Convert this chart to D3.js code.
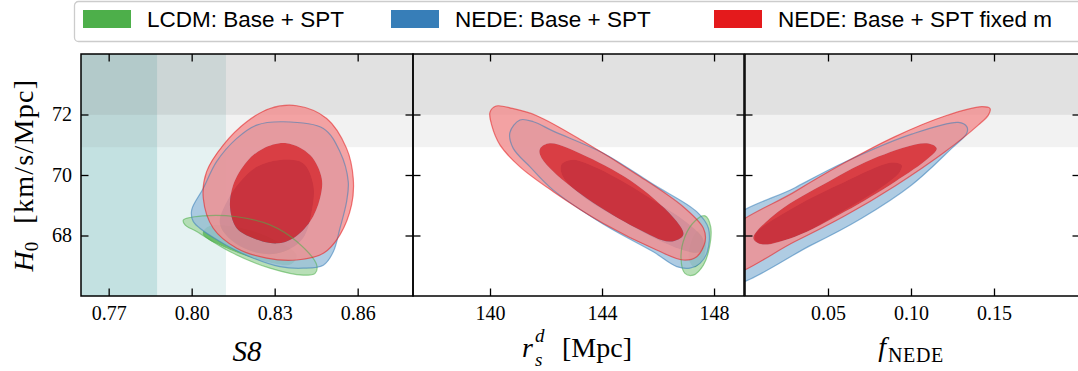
<!DOCTYPE html>
<html>
<head>
<meta charset="utf-8">
<script src="https://cdn.jsdelivr.net/npm/d3@7"></script>
<style>
  body { margin: 0; background: #fff; }
  svg { display: block; }
</style>
</head>
<body>
<svg id="chart" width="1078" height="371"></svg>
<script>
// ---- data ----
const seriesNames = ["LCDM: Base + SPT", "NEDE: Base + SPT", "NEDE: Base + SPT fixed m"];
const seriesColors = ["#4daf4a", "#377eb8", "#e41a1c"];

const h0Ticks = [68, 70, 72];
const s8Ticks = [0.77, 0.80, 0.83, 0.86];
const rsTicks = [140, 144, 148];
const fTicks = [0.05, 0.10, 0.15];

// external priors drawn as shaded bands (2 sigma, 1 sigma)
const h0Bands = [{ lo: 70.92, hi: 76 }, { lo: 71.99, hi: 76 }];
const s8Bands = [{ lo: 0.70, hi: 0.8124 }, { lo: 0.70, hi: 0.7875 }];

// contours, [x, H0]
const s8GreenOuter = [[0.7970,68.51],[0.8042,68.65],[0.8163,68.62],[0.8283,68.35],[0.8380,67.80],[0.8452,67.02],[0.8446,66.75],[0.8403,66.69],[0.8283,66.92],[0.8139,67.46],[0.8018,68.13],[0.7976,68.35]];
const s8GreenInner = [[0.8060,68.30],[0.8180,68.25],[0.8300,67.85],[0.8380,67.35],[0.8360,67.05],[0.8260,67.15],[0.8120,67.60],[0.8040,68.05]];
const s8BlueOuter = [[0.8331,71.76],[0.8476,71.54],[0.8536,70.77],[0.8566,69.78],[0.8560,69.12],[0.8536,68.24],[0.8512,67.46],[0.8476,67.02],[0.8403,66.92],[0.8319,66.97],[0.8223,67.25],[0.8102,67.80],[0.8006,68.46],[0.8000,68.84],[0.8042,69.56],[0.8090,70.44],[0.8163,71.21],[0.8235,71.65]];
const s8BlueInner = [[0.8319,70.50],[0.8403,70.39],[0.8440,69.67],[0.8434,68.79],[0.8403,67.91],[0.8331,67.46],[0.8247,67.41],[0.8150,67.80],[0.8102,68.40],[0.8127,69.12],[0.8175,69.78],[0.8235,70.27]];
const s8RedOuter = [[0.8380,72.29],[0.8488,71.87],[0.8560,70.88],[0.8584,69.89],[0.8578,69.01],[0.8536,68.02],[0.8476,67.41],[0.8380,67.19],[0.8271,67.25],[0.8163,67.58],[0.8078,68.24],[0.8042,69.23],[0.8054,70.11],[0.8114,70.99],[0.8199,71.76],[0.8283,72.20]];
const s8RedInner = [[0.8343,71.05],[0.8428,70.66],[0.8470,69.89],[0.8464,69.23],[0.8428,68.46],[0.8367,67.91],[0.8307,67.74],[0.8223,67.91],[0.8163,68.24],[0.8139,68.90],[0.8150,69.67],[0.8199,70.44],[0.8259,70.88]];

const rsGreenOuter = [[147.68,68.65],[147.88,68.29],[147.83,67.58],[147.62,67.02],[147.26,66.69],[146.96,66.75],[146.82,67.25],[146.96,67.96],[147.32,68.48]];
const rsGreenInner = [[147.55,68.20],[147.72,67.80],[147.60,67.20],[147.30,66.95],[147.10,67.20],[147.15,67.70],[147.35,68.10]];
const rsBlueOuter = [[141.07,71.82],[141.55,71.76],[142.26,71.45],[144.05,70.72],[145.83,69.69],[147.38,68.79],[147.80,68.24],[147.76,67.46],[147.50,67.08],[147.14,66.92],[146.67,66.97],[145.83,67.46],[144.05,68.37],[142.26,69.50],[141.43,70.27],[140.83,70.88],[140.71,71.40]];
const rsBlueInner = [[142.55,70.35],[142.95,70.50],[144.29,70.02],[145.95,69.10],[147.14,68.35],[147.62,67.85],[147.50,67.46],[146.96,67.50],[146.00,67.85],[144.60,68.55],[143.30,69.30],[142.60,69.95]];
const rsRedOuter = [[140.00,72.08],[140.22,72.28],[140.80,72.20],[141.67,71.96],[143.45,71.05],[145.24,70.02],[146.90,68.95],[147.62,68.24],[147.68,67.80],[147.38,67.30],[146.90,67.19],[145.95,67.52],[144.05,68.40],[142.26,69.45],[141.07,70.27],[140.36,70.99],[140.06,71.65]];
const rsRedInner = [[141.79,70.88],[142.14,71.05],[143.45,70.61],[145.24,69.67],[146.67,68.46],[146.90,68.02],[146.43,67.80],[145.24,68.24],[143.45,69.23],[142.14,70.22],[141.79,70.66]];

const fBlueOuter = [[0.1336,71.60],[0.1285,71.74],[0.1004,71.35],[0.0602,70.43],[0.0301,69.58],[-0.012,68.32],[-0.012,66.39],[0.0402,67.69],[0.0703,68.57],[0.1004,69.67],[0.1245,70.88],[0.1336,71.38]];
const fBlueInner = [[0.0944,70.33],[0.0884,70.41],[0.0602,69.78],[0.0301,68.95],[0.0060,68.02],[0.0080,67.74],[0.0301,67.96],[0.0602,68.84],[0.0843,69.67],[0.0934,70.11]];
const fRedOuter = [[0.1476,72.20],[0.1426,72.26],[0.1205,71.95],[0.0904,71.27],[0.0602,70.41],[0.0301,69.45],[-0.012,67.98],[-0.012,66.71],[0.0301,67.80],[0.0602,68.65],[0.0904,69.64],[0.1205,70.77],[0.1405,71.65],[0.1466,71.98]];
const fRedInner = [[0.1155,70.88],[0.1095,71.05],[0.0803,70.61],[0.0502,69.78],[0.0201,68.79],[0.0050,67.91],[0.0101,67.71],[0.0301,67.96],[0.0602,68.79],[0.0904,69.78],[0.1104,70.55]];

// ---- layout ----
const svg = d3.select("#chart");
const plotTop = 54, plotBottom = 296;
const y = d3.scaleLinear().domain([66, 74]).range([plotBottom, plotTop]);
const serif = "'Liberation Serif', 'Times New Roman', serif";

const panels = [
  { x: d3.scaleLinear().domain([0.76, 0.88]).range([81, 413]), right: 413,
    ticks: s8Ticks, fmt: d3.format(".2f"),
    contours: [[s8GreenOuter, s8GreenInner], [s8BlueOuter, s8BlueInner], [s8RedOuter, s8RedInner]] },
  { x: d3.scaleLinear().domain([137.25, 149.07]).range([413, 744]), right: 744,
    ticks: rsTicks, fmt: d3.format("d"),
    contours: [[rsGreenOuter, rsGreenInner], [rsBlueOuter, rsBlueInner], [rsRedOuter, rsRedInner]] },
  { x: d3.scaleLinear().domain([0, 0.2]).range([745, 1077]), right: 1080,
    ticks: fTicks, fmt: d3.format(".2f"),
    contours: [null, [fBlueOuter, fBlueInner], [fRedOuter, fRedInner]] }
];

const bandAlpha = [0.1, 0.15];
const defs = svg.append("defs");

panels.forEach((p, i) => {
  const x0 = p.x.range()[0], w = p.right - x0;
  defs.append("clipPath").attr("id", "clip" + i)
    .append("rect").attr("x", x0).attr("y", plotTop).attr("width", w).attr("height", plotBottom - plotTop);

  const g = svg.append("g");
  const body = g.append("g").attr("clip-path", `url(#clip${i})`);

  if (i === 0) {
    s8Bands.forEach((b, k) => body.append("rect")
      .attr("x", p.x(b.lo)).attr("width", p.x(b.hi) - p.x(b.lo))
      .attr("y", plotTop).attr("height", plotBottom - plotTop)
      .attr("fill", "#008080").attr("fill-opacity", bandAlpha[k]));
  }
  h0Bands.forEach((b, k) => body.append("rect")
    .attr("x", x0).attr("width", w)
    .attr("y", y(b.hi)).attr("height", y(b.lo) - y(b.hi))
    .attr("fill", "#808080").attr("fill-opacity", bandAlpha[k]));

  const line = d3.line()
    .x(d => p.x(d[0])).y(d => y(d[1]))
    .curve(d3.curveCatmullRomClosed.alpha(0.5));

  const fills = body.append("g");
  const edges = body.append("g");
  p.contours.forEach((c, s) => {
    if (!c) return;
    const [outer, inner] = c;
    const base = seriesColors[s];
    const light = d3.interpolateRgb(base, "#fff")(0.5);
    fills.append("path").attr("d", line(outer) + line(inner))
      .attr("fill", light).attr("fill-rule", "evenodd").attr("fill-opacity", 0.8);
    fills.append("path").attr("d", line(inner))
      .attr("fill", base).attr("fill-opacity", 0.8);
    edges.append("path").attr("d", line(outer))
      .attr("fill", "none").attr("stroke", base).attr("stroke-opacity", 0.55).attr("stroke-width", 1.2);
  });

  const tk = 7.5;
  const styleAxis = a => {
    a.select(".domain").remove();
    a.selectAll("line").attr("stroke", "#000").attr("stroke-width", 1.3);
    a.selectAll("text").attr("font-family", serif).attr("font-size", 20).attr("fill", "#000");
  };
  g.append("g").attr("transform", `translate(0,${plotBottom})`)
    .call(d3.axisBottom(p.x).tickValues(p.ticks).tickSize(-tk).tickPadding(9.5).tickFormat(p.fmt))
    .call(styleAxis);
  g.append("g").attr("transform", `translate(0,${plotTop})`)
    .call(d3.axisTop(p.x).tickValues(p.ticks).tickSize(-tk).tickFormat(() => ""))
    .call(styleAxis);
  g.append("g").attr("transform", `translate(${x0},0)`)
    .call(d3.axisLeft(y).tickValues(h0Ticks).tickSize(-tk).tickPadding(9)
      .tickFormat(i === 0 ? d3.format("d") : () => ""))
    .call(styleAxis);
  g.append("g").attr("transform", `translate(${p.right},0)`)
    .call(d3.axisRight(y).tickValues(h0Ticks).tickSize(-tk).tickFormat(() => ""))
    .call(styleAxis);

  g.append("rect").attr("x", x0).attr("y", plotTop).attr("width", w).attr("height", plotBottom - plotTop)
    .attr("fill", "none").attr("stroke", "#000").attr("stroke-width", 1.5);
});

// ---- axis labels ----
const lab = 28, sub = 19;
const addText = (x, yy, str, size, italic) => svg.append("text")
  .attr("x", x).attr("y", yy).attr("font-family", serif).attr("font-size", size)
  .attr("font-style", italic ? "italic" : "normal").attr("fill", "#000").text(str);

addText(247, 361, "S8", lab + 1, true).attr("text-anchor", "middle");

// r_s^d  [Mpc]
addText(522, 357, "r", lab, true);
addText(535, 342, "d", sub, true);
addText(535, 366, "s", sub, true);
addText(562, 357, "[Mpc]", lab, false);

// f_NEDE
const fLab = addText(911, 356, "", lab, false).attr("text-anchor", "middle");
fLab.append("tspan").attr("font-style", "italic").text("f");
fLab.append("tspan").attr("font-size", sub + 1).attr("dy", 6).attr("dx", 2)
  .attr("letter-spacing", 0.6).text("NEDE");

// H_0  [km/s/Mpc]
const yLab = svg.append("text").attr("transform", `translate(33,${(plotTop + plotBottom) / 2}) rotate(-90)`)
  .attr("text-anchor", "middle").attr("font-family", serif).attr("font-size", lab).attr("fill", "#000");
yLab.append("tspan").attr("font-style", "italic").text("H");
yLab.append("tspan").attr("font-size", sub).attr("dy", 5).text("0");
yLab.append("tspan").attr("dy", -5).attr("dx", 18).attr("letter-spacing", 1.3).text("[km/s/Mpc]");

// ---- legend ----
const legend = svg.append("g");
legend.append("rect").attr("x", 74.5).attr("y", 1.5).attr("width", 1040).attr("height", 40).attr("rx", 4)
  .attr("fill", "#fff").attr("stroke", "#cccccc").attr("stroke-width", 1.3);
const legendX = [83, 391, 714];
seriesNames.forEach((name, s) => {
  legend.append("rect").attr("x", legendX[s]).attr("y", 10).attr("width", 48).attr("height", 18)
    .attr("fill", seriesColors[s]);
  legend.append("text").attr("x", legendX[s] + 64).attr("y", 27)
    .attr("font-family", "'Liberation Sans', Arial, sans-serif").attr("font-size", 22.5)
    .attr("fill", "#000").text(name);
});
</script>
</body>
</html>
